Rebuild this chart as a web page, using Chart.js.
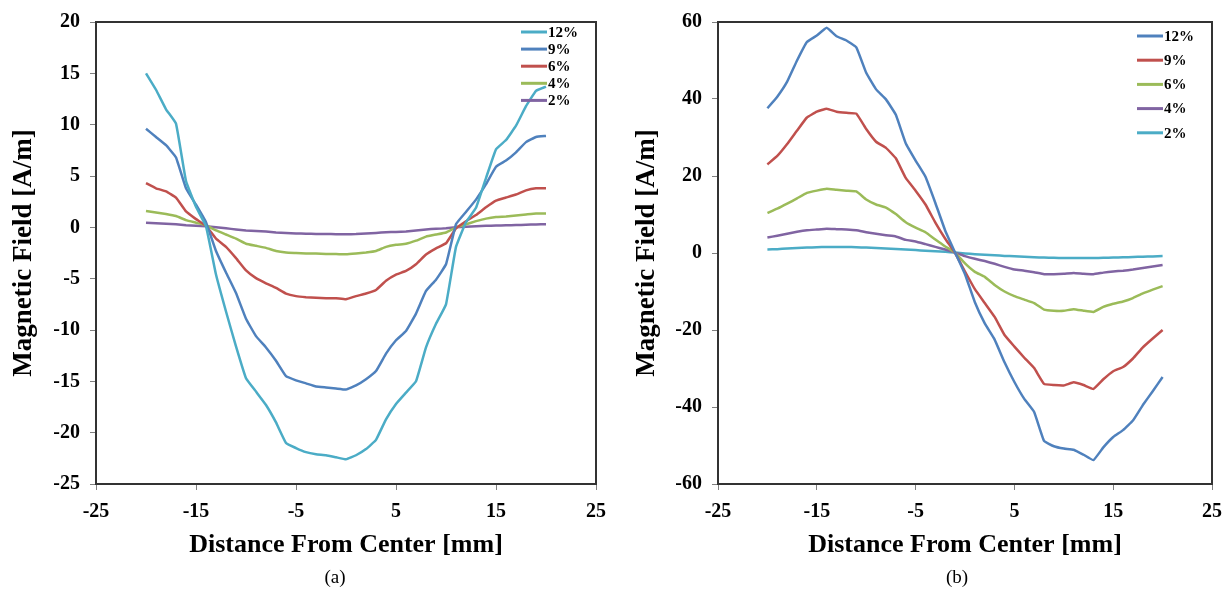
<!DOCTYPE html>
<html>
<head>
<meta charset="utf-8">
<script src="https://cdn.jsdelivr.net/npm/chart.js@4.4.1/dist/chart.umd.min.js"></script>
<style>
  body { margin: 0; background: #fff; }
  #wrap { position: relative; width: 1232px; height: 590px; }
  canvas { position: absolute; top: 0; }
  .cap { position: absolute; top: 565px; width: 60px; margin-left: -30px; text-align: center;
         font: 19px 'Liberation Serif', 'Times New Roman', serif; color: #000; line-height: 24px; }
</style>
</head>
<body>
<div id="wrap">
  <canvas id="chA" width="616" height="590" style="left:0"></canvas>
  <canvas id="chB" width="616" height="590" style="left:616px"></canvas>
  <div class="cap" style="left:335px">(a)</div>
  <div class="cap" style="left:957px">(b)</div>
</div>
<script>
// distance from center [mm]
const DIST = [-20,-19,-18,-17,-16,-15,-14,-13,-12,-11,-10,-9,-8,-7,-6,-5,-4,-3,-2,-1,0,
  1,2,3,4,5,6,7,8,9,10,11,12,13,14,15,16,17,18,19,20];

const X_TICKS = [-25, -15, -5, 5, 15, 25];
const Y_TICKS_A = [-25, -20, -15, -10, -5, 0, 5, 10, 15, 20];
const Y_TICKS_B = [-60, -40, -20, 0, 20, 40, 60];

const LABELS = ["12%", "9%", "6%", "4%", "2%"];

// (a)
const A12 = [15.0, 13.4, 11.5, 10.1, 4.5, 2.0, 0.1, -4.6, -8.2, -11.6, -14.7, -16.0, -17.3, -19.0, -21.0, -21.5, -21.9, -22.1, -22.2, -22.4, -22.6,
  -22.2, -21.6, -20.7, -18.7, -17.2, -16.1, -15.0, -11.7, -9.4, -7.5, -1.9, 0.5, 1.9, 4.8, 7.6, 8.5, 9.9, 11.8, 13.3, 13.7];
const A9 = [9.6, 8.8, 8.0, 6.8, 3.8, 2.2, 0.5, -2.3, -4.4, -6.4, -8.9, -10.6, -11.7, -13.0, -14.5, -14.9, -15.2, -15.5, -15.6, -15.7, -15.8,
  -15.4, -14.8, -14.0, -12.3, -11.0, -10.1, -8.4, -6.2, -5.1, -3.6, 0.3, 1.5, 2.7, 4.2, 5.9, 6.5, 7.3, 8.3, 8.8, 8.9];
const A6 = [4.3, 3.8, 3.5, 2.9, 1.55, 0.8, 0.15, -1.1, -1.9, -3.0, -4.2, -4.95, -5.45, -5.9, -6.45, -6.7, -6.8, -6.85, -6.9, -6.9, -7.0,
  -6.7, -6.45, -6.1, -5.2, -4.6, -4.25, -3.6, -2.65, -2.05, -1.55, -0.1, 0.6, 1.2, 1.95, 2.6, 2.9, 3.2, 3.6, 3.8, 3.8];
const A4 = [1.6, 1.45, 1.3, 1.1, 0.7, 0.45, 0.2, -0.3, -0.7, -1.1, -1.6, -1.8, -2.0, -2.3, -2.45, -2.5, -2.55, -2.55, -2.6, -2.6, -2.63,
  -2.55, -2.45, -2.3, -1.9, -1.7, -1.6, -1.3, -0.9, -0.7, -0.5, 0.0, 0.3, 0.6, 0.85, 1.0, 1.05, 1.15, 1.25, 1.35, 1.35];
const A2 = [0.45, 0.4, 0.35, 0.3, 0.2, 0.15, 0.1, 0.0, -0.1, -0.2, -0.3, -0.35, -0.4, -0.5, -0.55, -0.6, -0.62, -0.64, -0.65, -0.67, -0.68,
  -0.66, -0.6, -0.55, -0.48, -0.45, -0.4, -0.3, -0.2, -0.15, -0.1, 0.0, 0.05, 0.1, 0.15, 0.18, 0.2, 0.22, 0.25, 0.28, 0.3];

// (b)
const B12 = [37.6, 40.6, 44.5, 50.0, 54.8, 56.5, 58.5, 56.3, 55.2, 53.4, 46.8, 42.5, 39.9, 35.9, 28.5, 24.0, 19.8, 13.0, 5.8, 0.1, -5.5,
  -12.8, -18.3, -22.5, -28.4, -33.5, -37.9, -41.3, -48.8, -50.2, -50.8, -51.1, -52.4, -53.8, -50.5, -47.8, -46.0, -43.5, -39.5, -35.9, -32.2];
const B9 = [23.0, 25.2, 28.3, 31.8, 35.2, 36.7, 37.5, 36.7, 36.4, 36.2, 32.2, 28.9, 27.3, 24.6, 19.5, 16.2, 12.6, 7.9, 3.7, 0.0, -4.8,
  -9.4, -13.0, -16.6, -21.3, -24.3, -27.2, -29.9, -34.0, -34.3, -34.4, -33.6, -34.3, -35.3, -32.8, -30.7, -29.6, -27.4, -24.5, -22.2, -20.0];
const B6 = [10.4, 11.5, 12.8, 14.2, 15.6, 16.2, 16.7, 16.4, 16.2, 16.0, 13.9, 12.6, 11.8, 10.1, 8.0, 6.6, 5.4, 3.5, 1.7, 0.1, -2.7,
  -4.9, -6.2, -8.3, -10.0, -11.2, -12.1, -13.0, -14.7, -15.0, -15.0, -14.6, -15.0, -15.3, -14.0, -13.2, -12.6, -11.7, -10.5, -9.5, -8.6];
const B4 = [4.0, 4.5, 5.0, 5.5, 5.9, 6.1, 6.3, 6.2, 6.1, 5.9, 5.4, 5.0, 4.6, 4.3, 3.4, 3.0, 2.3, 1.6, 0.9, 0.1, -0.8,
  -1.5, -2.1, -2.8, -3.6, -4.3, -4.6, -5.0, -5.5, -5.5, -5.4, -5.2, -5.4, -5.5, -5.1, -4.8, -4.6, -4.3, -3.9, -3.5, -3.1];
const B2 = [0.9, 1.0, 1.15, 1.3, 1.4, 1.5, 1.55, 1.55, 1.55, 1.5, 1.4, 1.3, 1.2, 1.05, 0.9, 0.75, 0.6, 0.45, 0.3, 0.1, -0.1,
  -0.3, -0.45, -0.6, -0.75, -0.85, -1.0, -1.1, -1.2, -1.25, -1.3, -1.3, -1.3, -1.3, -1.25, -1.2, -1.1, -1.05, -0.95, -0.9, -0.8];

const C_CYAN = "#4BACC6", C_BLUE = "#4F81BD", C_RED = "#C0504D", C_GREEN = "#9BBB59", C_PURPLE = "#8064A2";
const FONT = "'Liberation Serif', 'Times New Roman', serif";

// plot frame + legend inside the plot, top right
const frameLegend = {
  id: "frameLegend",
  afterDatasetsDraw(chart, args, opts) {
    const ctx = chart.ctx;
    const a = chart.chartArea;
    ctx.save();
    ctx.strokeStyle = "#333";
    ctx.lineWidth = 2;
    ctx.strokeRect(a.left, a.top, a.right - a.left, a.bottom - a.top);
    ctx.font = "bold 15px " + FONT;
    ctx.textBaseline = "middle";
    ctx.textAlign = "left";
    chart.data.datasets.forEach((ds, i) => {
      const y = a.top + opts.top + i * opts.step;
      const x = a.right - opts.right;
      ctx.strokeStyle = ds.borderColor;
      ctx.lineWidth = 3;
      ctx.beginPath();
      ctx.moveTo(x, y);
      ctx.lineTo(x + opts.len, y);
      ctx.stroke();
      ctx.fillStyle = "#000";
      ctx.fillText(ds.label, x + opts.len + 1, y + 1);
    });
    ctx.restore();
  }
};

function pts(arr) {
  return DIST.map((x, i) => ({ x: x, y: arr[i] }));
}

function makeChart(id, series, colors, yTicks, pad, yWidth, legend) {
  const ctx = document.getElementById(id);
  new Chart(ctx, {
    type: "line",
    data: {
      datasets: series.map((s, i) => ({
        label: LABELS[i],
        data: pts(s),
        borderColor: colors[i],
        backgroundColor: colors[i],
        borderWidth: 2.5,
        pointRadius: 0,
        tension: 0.1,
        fill: false,
      })),
    },
    options: {
      responsive: false,
      animation: false,
      devicePixelRatio: 1,
      layout: { padding: pad },
      scales: {
        x: {
          type: "linear",
          min: -25,
          max: 25,
          afterBuildTicks: (s) => { s.ticks = X_TICKS.map((v) => ({ value: v })); },
          afterFit: (s) => { s.height = 79; },
          grid: { drawOnChartArea: false, drawTicks: true, tickLength: 6, color: "#808080" },
          border: { display: false },
          ticks: { color: "#000", font: { family: FONT, size: 20, weight: "bold" }, padding: 10, maxRotation: 0, autoSkip: false },
          title: {
            display: true,
            text: "Distance From Center [mm]",
            color: "#000",
            font: { family: FONT, size: 26, weight: "bold" },
            padding: { top: 0, bottom: 2 },
          },
        },
        y: {
          type: "linear",
          min: yTicks[0],
          max: yTicks[yTicks.length - 1],
          afterBuildTicks: (s) => { s.ticks = yTicks.map((v) => ({ value: v })); },
          afterFit: (s) => { s.width = yWidth; },
          grid: { drawOnChartArea: false, drawTicks: true, tickLength: 6, color: "#808080" },
          border: { display: false },
          ticks: { color: "#000", font: { family: FONT, size: 20, weight: "bold" }, padding: 10 },
          title: {
            display: true,
            text: "Magnetic Field [A/m]",
            color: "#000",
            font: { family: FONT, size: 27, weight: "bold" },
            padding: { top: 4, bottom: 4 },
          },
        },
      },
      plugins: {
        legend: { display: false },
        tooltip: { enabled: false },
        frameLegend: legend,
      },
    },
    plugins: [frameLegend],
  });
}

makeChart("chA", [A12, A9, A6, A4, A2], [C_CYAN, C_BLUE, C_RED, C_GREEN, C_PURPLE], Y_TICKS_A,
  { left: 4, right: 19, top: 20, bottom: 27 }, 92, { right: 75, top: 10, step: 17.1, len: 26 });

makeChart("chB", [B12, B9, B6, B4, B2], [C_BLUE, C_RED, C_GREEN, C_PURPLE, C_CYAN], Y_TICKS_B,
  { left: 11, right: 14, top: 20, bottom: 27 }, 91, { right: 75, top: 14, step: 24.2, len: 26 });
</script>
</body>
</html>
